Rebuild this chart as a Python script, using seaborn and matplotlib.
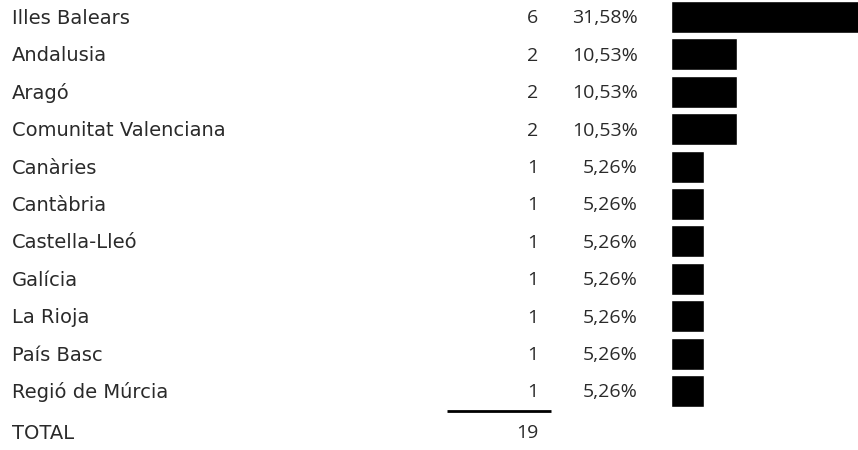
import matplotlib
matplotlib.use("Agg")
import matplotlib.pyplot as plt
import seaborn as sns
import pandas as pd

regions = ["Illes Balears", "Andalusia", "Aragó", "Comunitat Valenciana", "Canàries",
           "Cantàbria", "Castella-Lleó", "Galícia", "La Rioja", "País Basc", "Regió de Múrcia"]
counts = [6, 2, 2, 2, 1, 1, 1, 1, 1, 1, 1]
percents = ["31,58%", "10,53%", "10,53%", "10,53%", "5,26%", "5,26%",
            "5,26%", "5,26%", "5,26%", "5,26%", "5,26%"]
total_label = "TOTAL"
total_value = 19

sns.set_theme(style="white")

W, H = 858, 450
fig = plt.figure(figsize=(W / 100, H / 100), dpi=100)

# row geometry (pixels)
row0 = 17.0
pitch = 37.4
ylim = ((H - row0) / pitch, -row0 / pitch)
text_shift = 0.04  # text sits a touch below the bar centre

# text table
ax = fig.add_axes([0, 0, 1, 1])
ax.set_xlim(0, W)
ax.set_ylim(*ylim)
ax.axis("off")

label_font = dict(family=["DejaVu Sans"], fontsize=14, color="#2a2a2a")
num_font = dict(family=["Open Sans", "DejaVu Sans"], fontsize=14, color="#2a2a2a")

for i, (r, c, p) in enumerate(zip(regions, counts, percents)):
    y = i + text_shift
    ax.text(12, y, r, ha="left", va="center", **label_font)
    ax.text(538, y, str(c), ha="right", va="center", **num_font)
    ax.text(638, y, p, ha="right", va="center", **num_font)

n = len(regions)
ax.plot([447, 551], [n - 0.47, n - 0.47], color="black", lw=2, solid_capstyle="butt")
ax.text(12, n + 0.13, total_label, ha="left", va="center", **label_font)
ax.text(538, n + 0.13, str(total_value), ha="right", va="center", **num_font)

# bars
bx = fig.add_axes([671 / W, 0, (W - 671) / W, 1])
df = pd.DataFrame({"region": regions, "count": counts})
sns.barplot(data=df, x="count", y="region", orient="h", color="black",
            saturation=1, width=32 / pitch, ax=bx)
bx.set_xlim(0, (W - 671) / 33.0)
bx.set_ylim(*ylim)
bx.axis("off")

fig.savefig("out.png", dpi=100)
